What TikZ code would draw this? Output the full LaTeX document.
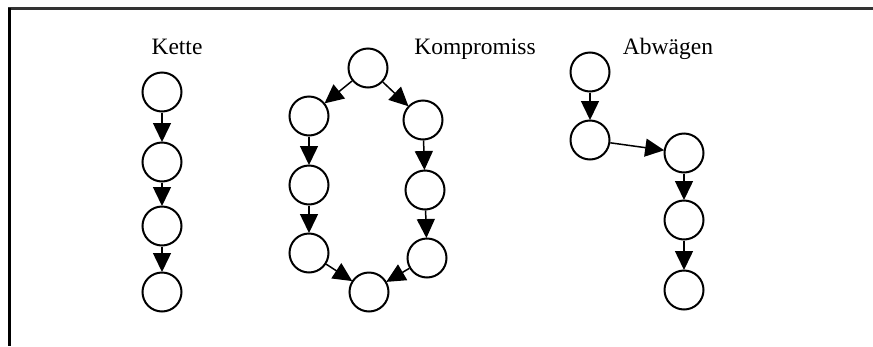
\documentclass[tikz,border=0pt]{standalone}
\usepackage{fontspec}
\setmainfont{Liberation Serif}
\usetikzlibrary{arrows.meta}

\tikzset{
  state/.style={circle, draw=black, line width=2pt, minimum size=39pt, inner sep=0pt},
  flow/.style={line width=1.5pt, -{Triangle[length=19pt,width=18pt]}, shorten >=-0.5pt},
  title/.style={anchor=base, font=\fontsize{23.5}{26}\selectfont, inner sep=0pt},
}

\begin{document}
\begin{tikzpicture}[x=1pt, y=-1pt]
  \useasboundingbox (0,0) rectangle (873,346);
  \fill[white] (0,0) rectangle (873,346);

  % frame edges
  \draw[line width=2.6pt, black!80] (8,8.5) -- (873,8.5);
  \draw[line width=3pt, black] (9.5,8) -- (9.5,346);

  % Kette
  \node[title] (tk) at (177,54) {Kette};
  \node[state] (k1) at (162,92) {};
  \node[state] (k2) at (162,162) {};
  \node[state] (k3) at (162,226) {};
  \node[state] (k4) at (162,292) {};
  \draw[flow] (k1) -- (k2);
  \draw[flow] (k2) -- (k3);
  \draw[flow] (k3) -- (k4);

  % Kompromiss
  \node[title] (tm) at (475,54) {Kompromiss};
  \node[state] (m0) at (368,68) {};
  \node[state] (l1) at (309,116) {};
  \node[state] (l2) at (309,185) {};
  \node[state] (l3) at (309,253) {};
  \node[state] (r1) at (423,120) {};
  \node[state] (r2) at (425,190) {};
  \node[state] (r3) at (427,258) {};
  \node[state] (m9) at (369,292) {};
  \draw[flow] (m0) -- (l1);
  \draw[flow] (l1) -- (l2);
  \draw[flow] (l2) -- (l3);
  \draw[flow] (l3) -- (m9);
  \draw[flow] (m0) -- (r1);
  \draw[flow] (r1) -- (r2);
  \draw[flow] (r2) -- (r3);
  \draw[flow] (r3) -- (m9);

  % Abwägen
  \node[title] (ta) at (668,54) {Abwägen};
  \node[state] (a1) at (590,72) {};
  \node[state] (a2) at (590,140) {};
  \node[state] (a3) at (684,153) {};
  \node[state] (a4) at (684,220) {};
  \node[state] (a5) at (684,290) {};
  \draw[flow] (a1) -- (a2);
  \draw[flow] (a2) -- (a3);
  \draw[flow] (a3) -- (a4);
  \draw[flow] (a4) -- (a5);
\end{tikzpicture}
\end{document}
